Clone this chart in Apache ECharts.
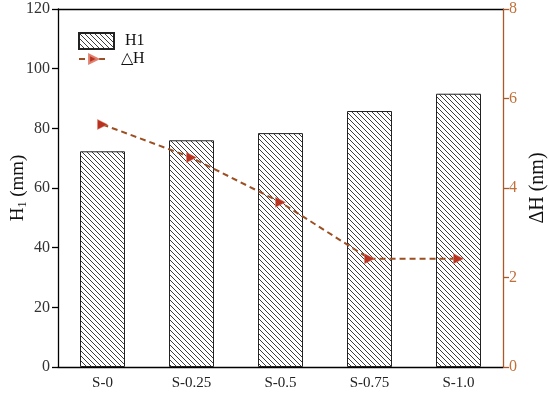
<!DOCTYPE html>
<html><head><meta charset="utf-8">
<script src="https://cdn.jsdelivr.net/npm/echarts@6/dist/echarts.min.js"></script>
<style>html,body{margin:0;padding:0;background:#fff}#c{width:550px;height:395px}</style>
</head><body><div id="c"></div>
<script>
var categories = ['S-0', 'S-0.25', 'S-0.5', 'S-0.75', 'S-1.0'];
var h1Values = [72.3, 76.0, 78.4, 85.8, 91.6];
var dhValues = [5.42, 4.68, 3.68, 2.42, 2.42];
var leftTicks = {min: 0, max: 120, interval: 20};
var rightTicks = {min: 0, max: 8, interval: 2};

var pc = document.createElement('canvas');
pc.width = 5; pc.height = 5;
var g = pc.getContext('2d');
g.fillStyle = '#fff'; g.fillRect(0, 0, 5, 5);
g.strokeStyle = '#333'; g.lineWidth = 0.95;
g.beginPath();
g.moveTo(-1, -1); g.lineTo(6, 6);
g.moveTo(-1, 4); g.lineTo(1, 6);
g.moveTo(4, -1); g.lineTo(6, 1);
g.stroke();

var serif = '"Liberation Serif", "Times New Roman", serif';
var brown = '#a85a2a';
var chart = echarts.init(document.getElementById('c'));
chart.setOption({
  animation: false,
  textStyle: {fontFamily: serif},
  grid: {left: 58, right: 47, top: 9, bottom: 28, containLabel: false, outerBoundsMode: 'none'},
  legend: [{
    orient: 'vertical', left: 78, top: 32, padding: 0, itemWidth: 35, itemHeight: 16,
    textStyle: {fontFamily: serif, fontSize: 16, color: '#111', padding: [0, 0, 0, 6]},
    data: [{name: 'H1', icon: 'rect'}]
  }, {
    orient: 'vertical', left: 78, top: 51, padding: 0, itemWidth: 29, itemHeight: 11,
    textStyle: {fontFamily: serif, fontSize: 16, color: '#111', padding: [0, 0, 0, 8]},
    data: [{name: '△H'}]
  }],
  xAxis: [{
    type: 'category', data: categories, position: 'bottom',
    axisLine: {onZero: false, lineStyle: {color: '#000', width: 1.3}},
    axisTick: {alignWithLabel: true, length: 6, lineStyle: {color: '#000', width: 1.3}},
    axisLabel: {fontFamily: serif, fontSize: 15, color: '#222', margin: 9}
  }, {
    type: 'category', data: categories, position: 'top',
    axisLine: {onZero: false, lineStyle: {color: '#000', width: 1.3}},
    axisTick: {alignWithLabel: true, inside: true, length: 6, lineStyle: {color: '#000', width: 1.3}},
    axisLabel: {show: false}
  }],
  yAxis: [{
    type: 'value', min: leftTicks.min, max: leftTicks.max, interval: leftTicks.interval,
    position: 'left',
    name: '{a|H}{b|1}{a| (mm)}', nameLocation: 'middle', nameRotate: 90, nameGap: 29,
    nameMoveOverlap: false,
    nameTextStyle: {rich: {a: {fontFamily: serif, fontSize: 19, color: '#111'}, b: {fontFamily: serif, fontSize: 12, color: '#111', verticalAlign: 'bottom', padding: [9, 0, 0, 0]}}},
    axisLine: {show: true, lineStyle: {color: '#000', width: 1.3}},
    axisTick: {show: true, length: 6, lineStyle: {color: '#000', width: 1.3}},
    axisLabel: {fontFamily: serif, fontSize: 16, color: '#333', margin: 8},
    splitLine: {show: false}
  }, {
    type: 'value', min: rightTicks.min, max: rightTicks.max, interval: rightTicks.interval,
    position: 'right',
    name: 'ΔH (nm)', nameLocation: 'middle', nameRotate: 90, nameGap: 25,
    nameTextStyle: {fontFamily: serif, fontSize: 20, color: '#111'},
    axisLine: {show: true, lineStyle: {color: brown, width: 1.3}},
    axisTick: {show: true, length: 6, lineStyle: {color: brown, width: 1.3}},
    axisLabel: {fontFamily: serif, fontSize: 16, color: '#c0703a', margin: 6},
    splitLine: {show: false}
  }],
  series: [{
    name: 'H1', type: 'bar', data: h1Values, xAxisIndex: 0, yAxisIndex: 0, barWidth: 45,
    itemStyle: {color: {image: pc, repeat: 'repeat'}, borderColor: '#222', borderWidth: 1}
  }, {
    name: '△H', type: 'line', data: dhValues, xAxisIndex: 0, yAxisIndex: 1,
    symbol: 'triangle', symbolRotate: -90, symbolSize: 10,
    itemStyle: {color: '#b8321f', borderColor: '#e08070', borderWidth: 0.5},
    lineStyle: {color: '#9c4f22', type: [6, 4], width: 2}
  }]
});
</script></body></html>
